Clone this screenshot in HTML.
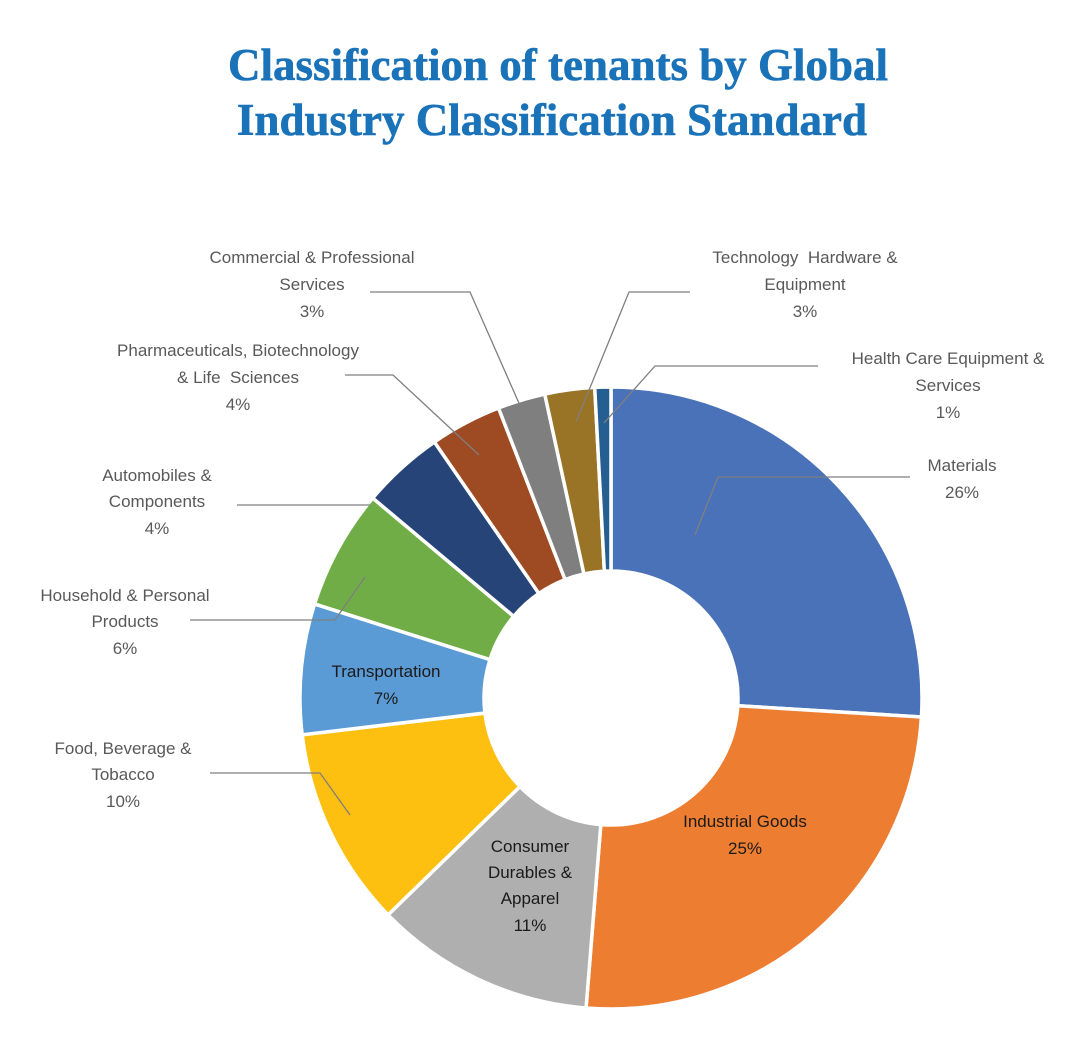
<!DOCTYPE html>
<html><head><meta charset="utf-8"><style>
html,body{margin:0;padding:0;background:#fff;}
svg{display:block}
.t{font-family:"Liberation Serif",serif;font-weight:bold;font-size:45px;fill:#1a72b8;text-anchor:middle;stroke:#1a72b8;stroke-width:0.6}
.l{font-family:"Liberation Sans",sans-serif;font-size:17px;fill:#595959;text-anchor:middle}
.d{font-family:"Liberation Sans",sans-serif;font-size:17px;fill:#1a1a1a;text-anchor:middle}
line,polyline{stroke:#7f7f7f;stroke-width:1.3;fill:none}
</style></head><body>
<svg id="s" width="1071" height="1063" viewBox="0 0 1071 1063">
<text class="t" x="558" y="80">Classification of tenants by Global</text>
<text class="t" x="552" y="135">Industry Classification Standard</text>
<g id="pie"></g>
<polyline points="370,292 470,292 533,435"/>
<polyline points="690,292 629,292 576,422"/>
<polyline points="818,366 655,366 604,423"/>
<polyline points="345,375 393,375 479,455"/>
<polyline points="237,505 350,505 370,505"/>
<polyline points="190,620 335,620 365,577"/>
<polyline points="210,773 320,773 350,815"/>
<polyline points="910,477 718,477 695,535"/>
<text class="l" x="312" y="263">Commercial &amp; Professional</text>
<text class="l" x="312" y="290">Services</text>
<text class="l" x="312" y="317">3%</text>
<text class="l" x="805" y="263">Technology&#160; Hardware &amp;</text>
<text class="l" x="805" y="290">Equipment</text>
<text class="l" x="805" y="317">3%</text>
<text class="l" x="948" y="364">Health Care Equipment &amp;</text>
<text class="l" x="948" y="391">Services</text>
<text class="l" x="948" y="418">1%</text>
<text class="l" x="238" y="356">Pharmaceuticals, Biotechnology</text>
<text class="l" x="238" y="383">&amp; Life&#160; Sciences</text>
<text class="l" x="238" y="410">4%</text>
<text class="l" x="157" y="481">Automobiles &amp;</text>
<text class="l" x="157" y="507">Components</text>
<text class="l" x="157" y="534">4%</text>
<text class="l" x="125" y="601">Household &amp; Personal</text>
<text class="l" x="125" y="627">Products</text>
<text class="l" x="125" y="654">6%</text>
<text class="l" x="123" y="754">Food, Beverage &amp;</text>
<text class="l" x="123" y="780">Tobacco</text>
<text class="l" x="123" y="807">10%</text>
<text class="l" x="962" y="471">Materials</text>
<text class="l" x="962" y="498">26%</text>
<text class="d" x="386" y="677">Transportation</text>
<text class="d" x="386" y="704">7%</text>
<text class="d" x="745" y="827">Industrial Goods</text>
<text class="d" x="745" y="854">25%</text>
<text class="d" x="530" y="852">Consumer</text>
<text class="d" x="530" y="878">Durables &amp;</text>
<text class="d" x="530" y="904">Apparel</text>
<text class="d" x="530" y="931">11%</text>
</svg>
<script>
var cx=611,cy=698,R=311,r=127;
var b=[0,93.5,184.6,225.8,263.2,287.6,310,325.4,338.8,347.7,357,360];
var c=["#4a72b8","#ed7d31","#afafaf","#fdbf10","#5b9bd5","#70ad47","#264478","#9e4a23","#7f7f7f","#997326","#255e91"];
function p(a,rr){a=a*Math.PI/180;return [cx+rr*Math.sin(a),cy-rr*Math.cos(a)];}
var g=document.getElementById("pie"),h="";
for(var i=0;i<11;i++){var a0=b[i],a1=b[i+1],lg=(a1-a0)>180?1:0;
var A=p(a0,R),B=p(a1,R),C=p(a1,r),D=p(a0,r);
h+='<path d="M'+A+' A'+R+','+R+' 0 '+lg+' 1 '+B+' L'+C+' A'+r+','+r+' 0 '+lg+' 0 '+D+' Z" fill="'+c[i]+'" stroke="#fff" stroke-width="3.5"/>';}
g.innerHTML=h;
</script>
</body></html>
